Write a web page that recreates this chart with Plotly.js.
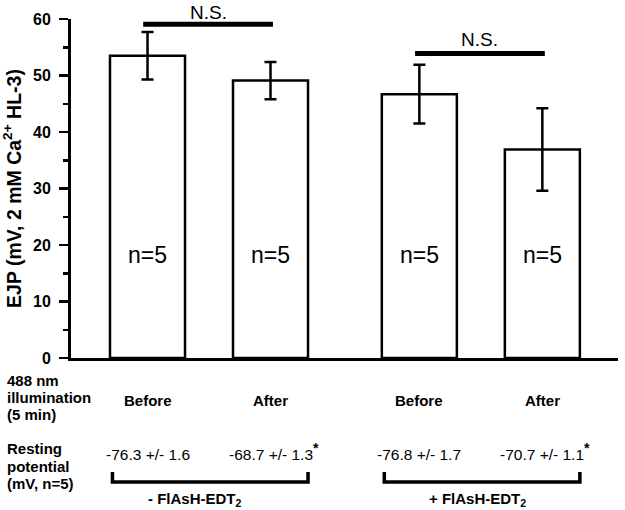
<!DOCTYPE html>
<html>
<head>
<meta charset="utf-8">
<script src="https://cdn.plot.ly/plotly-3.0.1.min.js"></script>
<style>html,body{margin:0;padding:0;background:#fff;}#chart{width:625px;height:510px;}</style>
</head>
<body>
<div id="chart"></div>
<script>
// ---- data ----
const conditions = ['Before', 'After', 'Before', 'After'];
const ejpMean = [53.5, 49.1, 46.7, 36.9];
const ejpSem = [4.2, 3.3, 5.2, 7.3];
const nLabels = ['n=5', 'n=5', 'n=5', 'n=5'];
const restingPotential = ['-76.3 +/- 1.6', '-68.7 +/- 1.3', '-76.8 +/- 1.7', '-70.7 +/- 1.1'];
const restingSignificant = [false, true, false, true];
const groupLabels = ['- FlAsH-EDT<sub>2</sub>', '+ FlAsH-EDT<sub>2</sub>'];
const sigLabels = ['N.S.', 'N.S.'];
const illumLabel = ['488 nm', 'illumination', '(5 min)'];
const restLabel = ['Resting', 'potential', '(mV, n=5)'];

// ---- layout helpers ----
const FONT = 'Liberation Sans, Arial, Helvetica, sans-serif';
const groupGap = 0.21;
const pos = conditions.map((c, i) => i + (i >= 2 ? groupGap : 0));
const barW = 0.61;
const plotTop = 19, plotBot = 358;
const py = p => (plotBot - p) / (plotBot - plotTop); // pixel y -> paper y

const bars = {
  type: 'bar',
  x: pos,
  y: ejpMean,
  width: barW,
  marker: {color: '#ffffff', line: {color: '#000', width: 2.5}},
  error_y: {type: 'data', array: ejpSem, visible: true, color: '#000', thickness: 2.5, width: 6},
  hoverinfo: 'skip'
};

const annotations = [];
const shapes = [];

// n labels inside bars, condition labels, resting potentials
pos.forEach((x, i) => {
  annotations.push({x: x, y: 18.2, xref: 'x', yref: 'y', text: nLabels[i], showarrow: false,
    xanchor: 'center', yanchor: 'middle',
    font: {family: FONT, size: 23, color: '#000'}});
  annotations.push({x: x, y: py(400), xref: 'x', yref: 'paper', text: '<b>' + conditions[i] + '</b>', showarrow: false,
    xanchor: 'center', yanchor: 'middle',
    font: {family: FONT, size: 15, color: '#000'}});
  annotations.push({x: x + (restingSignificant[i] ? 0.025 : 0), y: py(465), xref: 'x', yref: 'paper',
    text: restingPotential[i] + (restingSignificant[i] ? '<sup><b><span style="font-size:14px">*</span></b></sup>' : ''), showarrow: false,
    xanchor: 'center', yanchor: 'bottom',
    font: {family: FONT, size: 15.5, color: '#000'}});
});

// significance bars
const sigY = [59.05, 53.9];
const sigTextPx = [12, 39];
[[0, 1], [2, 3]].forEach((pr, k) => {
  const x0 = pos[pr[0]] - 0.035, x1 = pos[pr[1]] + 0.02;
  shapes.push({type: 'line', xref: 'x', yref: 'y', x0: x0, x1: x1, y0: sigY[k], y1: sigY[k],
    line: {color: '#000', width: 5}});
  annotations.push({x: (x0 + x1) / 2, y: py(sigTextPx[k]), xref: 'x', yref: 'paper', text: sigLabels[k], showarrow: false,
    xanchor: 'center', yanchor: 'middle',
    font: {family: FONT, size: 19, color: '#000'}});
});

// group brackets
const brTop = py(472), brBot = py(482);
[[0, 1], [2, 3]].forEach((pr, k) => {
  const x0 = pos[pr[0]] - barW / 2 + 0.02, x1 = pos[pr[1]] + barW / 2;
  shapes.push({type: 'path', xref: 'x', yref: 'paper',
    path: `M ${x0} ${brTop} L ${x0} ${brBot} L ${x1} ${brBot} L ${x1} ${brTop}`,
    line: {color: '#000', width: 3.5}});
  annotations.push({x: (x0 + x1) / 2 - (k === 0 ? 0.12 : 0.04), y: py(500), xref: 'x', yref: 'paper',
    text: '<b>' + groupLabels[k] + '</b>', showarrow: false,
    xanchor: 'center', yanchor: 'middle',
    font: {family: FONT, size: 15, color: '#000'}});
});

// left row labels
const leftX = (5 - 71) / 547;
const illumY = [380, 397, 414];
const restY = [449, 466, 483];
illumLabel.forEach((t, i) => annotations.push({x: leftX, y: py(illumY[i]), xref: 'paper', yref: 'paper',
  xanchor: 'left', yanchor: 'middle', text: '<b>' + t + '</b>', showarrow: false, font: {family: FONT, size: 15, color: '#000'}}));
restLabel.forEach((t, i) => annotations.push({x: leftX, y: py(restY[i]), xref: 'paper', yref: 'paper',
  xanchor: 'left', yanchor: 'middle', text: '<b>' + t + '</b>', showarrow: false, font: {family: FONT, size: 15, color: '#000'}}));

const layout = {
  width: 625, height: 510,
  margin: {l: 71, r: 7, t: plotTop, b: 510 - plotBot, pad: 0},
  paper_bgcolor: '#fff', plot_bgcolor: '#fff',
  showlegend: false,
  font: {family: FONT, color: '#000'},
  xaxis: {range: [-0.622, 3.825], showline: true, linewidth: 3, linecolor: '#000',
    showticklabels: false, ticks: '', showgrid: false, zeroline: false, fixedrange: true},
  yaxis: {range: [0, 60], tickvals: [0, 10, 20, 30, 40, 50, 60], ticks: 'outside', ticklen: 9, tickwidth: 2.5,
    tickcolor: '#000', showline: true, linewidth: 3, linecolor: '#000', showgrid: false, zeroline: false,
    ticklabelstandoff: 5,
    tickfont: {family: FONT, size: 16, color: '#000', weight: 700},
    minor: {ticks: 'outside', dtick: 5, ticklen: 5, tickwidth: 2.5, tickcolor: '#000', showgrid: false},
    title: {text: '<b>EJP (mV, 2 mM Ca<sup>2+</sup> HL-3)</b>', font: {family: FONT, size: 19.5, color: '#000'}, standoff: 7},
    fixedrange: true},
  shapes: shapes,
  annotations: annotations
};

Plotly.newPlot('chart', [bars], layout, {displayModeBar: false, staticPlot: true});
</script>
</body>
</html>
